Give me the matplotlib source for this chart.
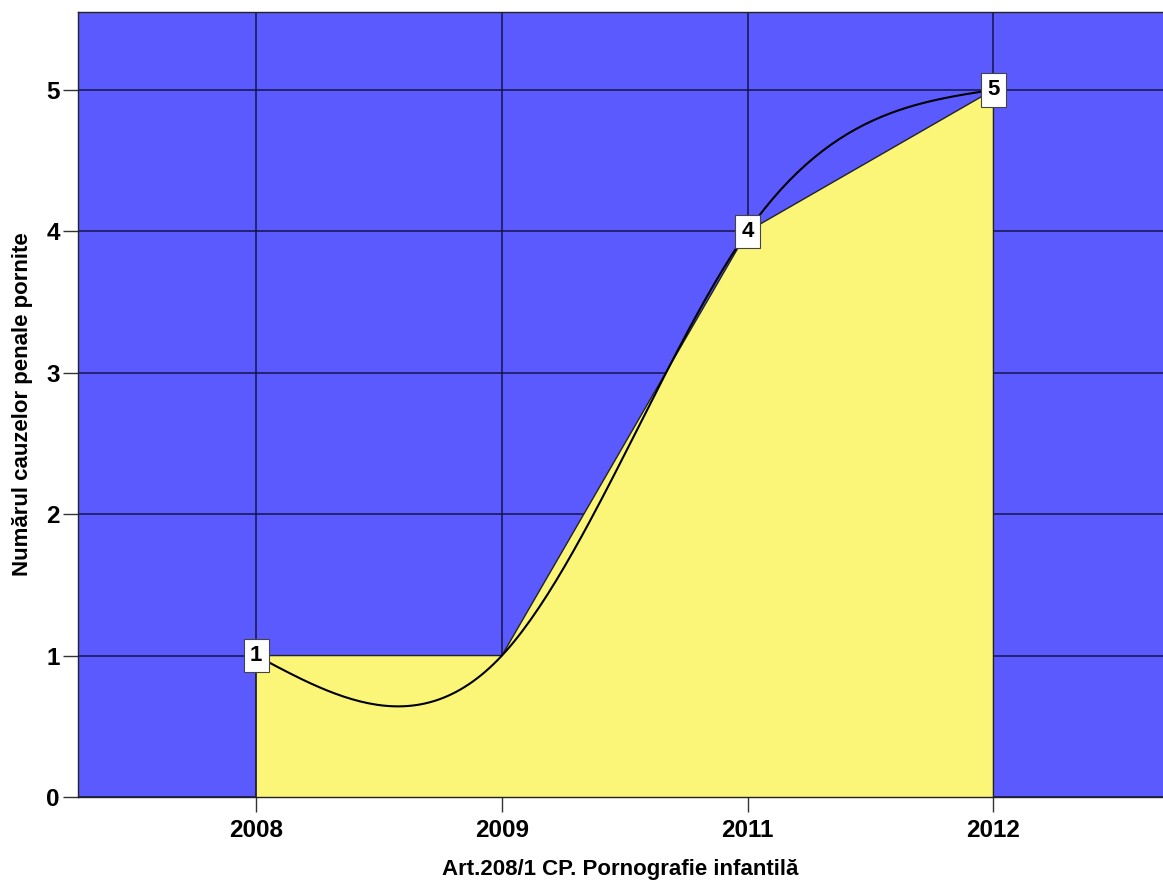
import numpy as np
import matplotlib
matplotlib.use("Agg")
import matplotlib.pyplot as plt

years = ["2008", "2009", "2011", "2012"]
counts = [1, 1, 4, 5]
show_label = [True, False, True, True]
yticks = [0, 1, 2, 3, 4, 5]
xlabel = "Art.208/1 CP. Pornografie infantilă"
ylabel = "Numărul cauzelor penale pornite"

BLUE = "#5a5aff"
YELLOW = "#fbf677"

plt.rcParams['font.family'] = ['Liberation Sans', 'DejaVu Sans']

def natural_spline(x, y, n=60):
    x = np.asarray(x, float); y = np.asarray(y, float)
    k = len(x); h = np.diff(x)
    A = np.zeros((k, k)); b = np.zeros(k)
    A[0, 0] = 1; A[-1, -1] = 1
    for i in range(1, k - 1):
        A[i, i - 1] = h[i - 1]; A[i, i] = 2 * (h[i - 1] + h[i]); A[i, i + 1] = h[i]
        b[i] = 6 * ((y[i + 1] - y[i]) / h[i] - (y[i] - y[i - 1]) / h[i - 1])
    M = np.linalg.solve(A, b)
    xs, ys = [], []
    for i in range(k - 1):
        t = np.linspace(x[i], x[i + 1], n)
        a = x[i + 1] - t; c = t - x[i]
        s = (M[i] * a**3 + M[i + 1] * c**3) / (6 * h[i]) \
            + (y[i] / h[i] - M[i] * h[i] / 6) * a + (y[i + 1] / h[i] - M[i + 1] * h[i] / 6) * c
        xs.append(t); ys.append(s)
    return np.concatenate(xs), np.concatenate(ys)

fig = plt.figure(figsize=(11.63, 8.86), dpi=100)
ax = fig.add_axes([78 / 1163, (886 - 797) / 886, (1163 - 78) / 1163, (797 - 12) / 886])
ax.set_facecolor(BLUE)

xpos = np.arange(len(years))
ax.set_xlim(-0.725, 3.69)
ax.set_ylim(0, 5.55)

for yv in yticks:
    ax.axhline(yv, color="#14144a", lw=1.1, zorder=1)
for xv in xpos:
    ax.axvline(xv, color="#14144a", lw=1.1, zorder=1)

ax.fill_between(xpos, counts, 0, facecolor=YELLOW, edgecolor="none", zorder=2)
ax.plot(np.r_[xpos[0], xpos, xpos[-1]], np.r_[0, counts, 0], color="#222222", lw=1.0, zorder=3)

sx, sy = natural_spline(xpos, counts)
ax.plot(sx, sy, color="black", lw=1.5, zorder=4)

for xv, yv, show in zip(xpos, counts, show_label):
    if show:
        ax.text(xv, yv, str(yv), ha="center", va="center", fontsize=16, fontweight="bold", zorder=5,
                bbox=dict(boxstyle="square,pad=0.28", facecolor="white", edgecolor="#444444", lw=0.8))

ax.set_xticks(xpos)
ax.set_xticklabels(years)
ax.set_yticks(yticks)
ax.tick_params(axis="both", labelsize=17.5, length=11, width=1, color="#333333")
ax.tick_params(axis="x", pad=5)
ax.tick_params(axis="y", pad=2)
for lab in ax.get_xticklabels() + ax.get_yticklabels():
    lab.set_fontweight("bold")
ax.spines["right"].set_visible(False)
for s in ["left", "bottom", "top"]:
    ax.spines[s].set_color("#222222")
    ax.spines[s].set_linewidth(1.0)

ax.set_xlabel(xlabel, fontsize=16, fontweight="bold", labelpad=12)
ax.set_ylabel(ylabel, fontsize=16, fontweight="bold", labelpad=10)

fig.savefig("out.png", dpi=100)
